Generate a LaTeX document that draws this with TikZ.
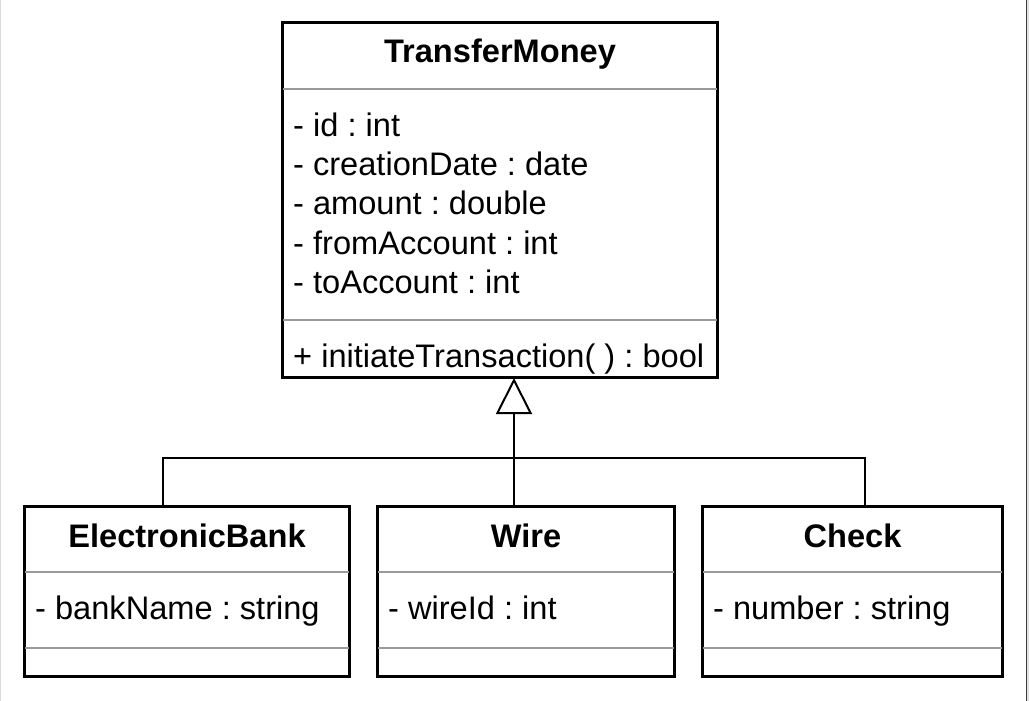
\documentclass[tikz,border=0pt]{standalone}
\usepackage{fontspec}
\setmainfont{Liberation Sans}
\usetikzlibrary{arrows.meta}
\frenchspacing
\tikzset{
  classbox/.style={draw=black, line width=2pt, fill=white, inner sep=0pt, rectangle},
  sepline/.style={draw=black!40, line width=1.5pt},
  conn/.style={draw=black, line width=2pt},
  ttl/.style={anchor=base, inner sep=0pt, font=\fontsize{32.6}{38}\selectfont\bfseries},
  attr/.style={anchor=base west, inner sep=0pt, font=\fontsize{32.6}{38}\selectfont},
}
\begin{document}
\begin{tikzpicture}[x=1pt,y=-1pt]
\useasboundingbox (0,0) rectangle (1029,701);
\fill[white] (0,0) rectangle (1029,701);
\draw[black!15, line width=1pt] (0.5,0) -- (0.5,701);
\fill[black!12] (1027,0) rectangle (1029,701);
\draw[black!75, line width=1pt] (1026.5,0) -- (1026.5,701);

% boxes
\node[classbox, minimum width=434pt, minimum height=354pt] (tm) at (500,200) {};
\node[classbox, minimum width=324pt, minimum height=169pt] (eb) at (187,591.5) {};
\node[classbox, minimum width=296pt, minimum height=169pt] (wi) at (526,591.5) {};
\node[classbox, minimum width=299pt, minimum height=169pt] (ck) at (852.5,591.5) {};

% helper coordinates
\coordinate (s1) at (0,89);
\coordinate (s2) at (0,320);
\coordinate (s3) at (0,572);
\coordinate (s4) at (0,648);
\coordinate (jx) at (514,458);
\coordinate (ebx) at (163,0);
\coordinate (ckx) at (865,0);

% separators
\draw[sepline] (tm.west |- s1) -- (tm.east |- s1);
\draw[sepline] (tm.west |- s2) -- (tm.east |- s2);
\foreach \b in {eb,wi,ck}{
  \draw[sepline] (\b.west |- s3) -- (\b.east |- s3);
  \draw[sepline] (\b.west |- s4) -- (\b.east |- s4);
}
\draw[classbox, fill=none] (tm.north west) rectangle (tm.south east);
\foreach \b in {eb,wi,ck}{
  \draw[classbox, fill=none] (\b.north west) rectangle (\b.south east);
}

% texts
\node[ttl] (tmt) at (500,63) {TransferMoney};
\node[attr] (a1) at (293,136) {- id : int};
\node[attr] (a2) at (293,175) {- creationDate : date};
\node[attr] (a3) at (293,214.5) {- amount : double};
\node[attr] (a4) at (293,254) {- fromAccount : int};
\node[attr] (a5) at (293,293) {- toAccount : int};
\node[attr] (m1) at (293,367) {+ initiateTransaction( ) : bool};

\node[ttl] (ebt) at (187,547) {ElectronicBank};
\node[attr] (eba) at (35,619) {- bankName : string};
\node[ttl] (wit) at (526,547) {Wire};
\node[attr] (wia) at (388,619) {- wireId : int};
\node[ttl] (ckt) at (852.5,547) {Check};
\node[attr] (cka) at (713,619) {- number : string};

% generalization
\draw[conn, -{Triangle[open, length=36pt 0, width=36pt 0, line width=2pt]}] (wi.north -| jx) -- (tm.south -| jx);
\draw[conn] (eb.north -| ebx) |- (jx) -| (ck.north -| ckx);
\end{tikzpicture}
\end{document}
